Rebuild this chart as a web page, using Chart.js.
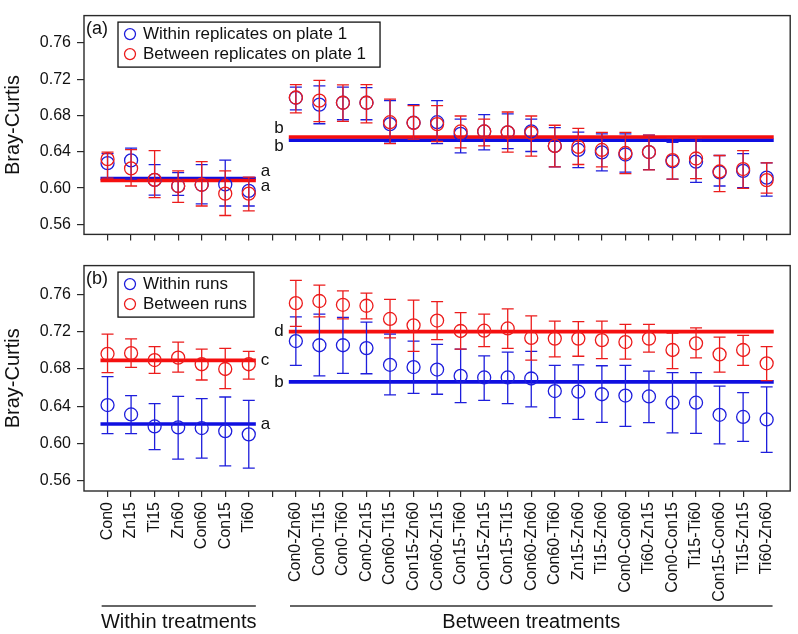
<!DOCTYPE html>
<html>
<head>
<meta charset="utf-8">
<script src="https://cdn.jsdelivr.net/npm/chart.js@4.4.1/dist/chart.umd.min.js"></script>
<style>
  html, body { margin: 0; padding: 0; background: #fff; }
  #wrap { position: relative; width: 798px; height: 634px; }
  #wrap canvas { position: absolute; left: 0; }
</style>
</head>
<body>
<div id="wrap">
  <canvas id="chartA" width="798" height="250" style="top:0"></canvas>
  <canvas id="chartB" width="798" height="384" style="top:250px"></canvas>
</div>
<script>
"use strict";

// categories
var withinLabels = ['Con0', 'Zn15', 'Ti15', 'Zn60', 'Con60', 'Con15', 'Ti60'];
var betweenLabels = ['Con0-Zn60', 'Con0-Ti15', 'Con0-Ti60', 'Con0-Zn15', 'Con60-Ti15', 'Con15-Zn60',
  'Con60-Zn15', 'Con15-Ti60', 'Con15-Zn15', 'Con15-Ti15', 'Con60-Zn60', 'Con60-Ti60', 'Zn15-Zn60',
  'Ti15-Zn60', 'Con0-Con60', 'Ti60-Zn15', 'Con0-Con15', 'Ti15-Ti60', 'Con15-Con60', 'Ti15-Zn15', 'Ti60-Zn60'];
var groupNames = ['Within treatments', 'Between treatments'];
var yTicks = [0.56, 0.60, 0.64, 0.68, 0.72, 0.76];

// panel (a) - replicates on plate 1
var aBlue   = [0.6275, 0.6305, 0.609, 0.6023, 0.6037, 0.6041, 0.5969,
  0.6995, 0.6919, 0.694, 0.694, 0.6705, 0.672, 0.6726, 0.6597, 0.6624, 0.6614, 0.6625, 0.6464,
  0.642, 0.6393, 0.637, 0.6397, 0.6295, 0.6291, 0.6173, 0.619, 0.6115];
var aBlueLo = [0.611, 0.6098, 0.5922, 0.592, 0.5827, 0.5803, 0.5803,
  0.6861, 0.6709, 0.6753, 0.6753, 0.6496, 0.654, 0.6489, 0.6387, 0.642, 0.6434, 0.6403, 0.6234,
  0.6226, 0.619, 0.6176, 0.6203, 0.6098, 0.6064, 0.6023, 0.6006, 0.5911];
var aBlueHi = [0.638, 0.644, 0.6258, 0.617, 0.6258, 0.6308, 0.6115,
  0.7113, 0.7126, 0.7113, 0.7107, 0.6963, 0.692, 0.6963, 0.676, 0.681, 0.6818, 0.676, 0.6665,
  0.6617, 0.6597, 0.6597, 0.6583, 0.6505, 0.652, 0.6359, 0.638, 0.6278];
var aRed    = [0.6319, 0.6217, 0.609, 0.6023, 0.6037, 0.5939, 0.5939,
  0.6998, 0.6963, 0.694, 0.694, 0.6726, 0.6719, 0.6705, 0.6624, 0.6624, 0.6614, 0.6608, 0.6464,
  0.6454, 0.642, 0.6387, 0.6397, 0.6308, 0.6326, 0.6183, 0.621, 0.6088];
var aRedLo  = [0.611, 0.6023, 0.5894, 0.5843, 0.5803, 0.5698, 0.5749,
  0.6828, 0.6733, 0.6736, 0.6719, 0.6489, 0.654, 0.6513, 0.6444, 0.6464, 0.6397, 0.6352, 0.6234,
  0.626, 0.6234, 0.6159, 0.62, 0.6098, 0.6105, 0.5962, 0.5996, 0.5945];
var aRedHi  = [0.6397, 0.6423, 0.6413, 0.619, 0.6291, 0.619, 0.612,
  0.714, 0.7187, 0.7136, 0.714, 0.698, 0.6909, 0.6909, 0.6794, 0.676, 0.6838, 0.6794, 0.6692,
  0.6658, 0.6614, 0.6614, 0.6583, 0.6556, 0.6556, 0.6359, 0.6413, 0.6278];
var aMeanBlue = [0.6105, 0.6528];   // within, between
var aMeanRed  = [0.6083, 0.6562];
var aLetterBlue = ['a', 'b'];
var aLetterRed  = ['a', 'b'];

// panel (b) - runs
var bBlue   = [0.6413, 0.6312, 0.6183, 0.6173, 0.6166, 0.6132, 0.6098,
  0.71, 0.7055, 0.7055, 0.7024, 0.6845, 0.6821, 0.6794, 0.6726, 0.6709, 0.6709, 0.6698, 0.6563,
  0.6556, 0.6529, 0.6515, 0.6505, 0.6438, 0.6438, 0.6308, 0.6285, 0.6258];
var bBlueLo = [0.6105, 0.6105, 0.5935, 0.5833, 0.5843, 0.5759, 0.5735,
  0.6838, 0.6726, 0.6753, 0.6749, 0.6522, 0.6539, 0.6529, 0.6438, 0.6464, 0.6428, 0.6393, 0.6278,
  0.6258, 0.6227, 0.6183, 0.6224, 0.6115, 0.6108, 0.5996, 0.6023, 0.5904];
var bBlueHi = [0.6719, 0.6515, 0.6428, 0.6505, 0.6482, 0.6499, 0.6464,
  0.736, 0.7388, 0.7354, 0.7303, 0.7174, 0.71, 0.7065, 0.7014, 0.694, 0.698, 0.699, 0.6838,
  0.6845, 0.6835, 0.6838, 0.6777, 0.676, 0.676, 0.6617, 0.6546, 0.6607];
var bRed    = [0.6963, 0.697, 0.6896, 0.6922, 0.6851, 0.68, 0.6851,
  0.7507, 0.753, 0.7489, 0.7479, 0.7337, 0.7269, 0.732, 0.7208, 0.7211, 0.7235, 0.7133, 0.7126,
  0.7126, 0.711, 0.7089, 0.7126, 0.7004, 0.7075, 0.6957, 0.7004, 0.6861];
var bRedLo  = [0.676, 0.6818, 0.6753, 0.6767, 0.6682, 0.659, 0.6692,
  0.7258, 0.736, 0.7337, 0.7337, 0.7133, 0.699, 0.7116, 0.7014, 0.7041, 0.7021, 0.6896, 0.693,
  0.6937, 0.6912, 0.6906, 0.698, 0.6804, 0.6919, 0.6767, 0.6838, 0.6675];
var bRedHi  = [0.7174, 0.7123, 0.7041, 0.7089, 0.7014, 0.7021, 0.699,
  0.7751, 0.77, 0.7639, 0.7615, 0.7547, 0.754, 0.7523, 0.7405, 0.7388, 0.7446, 0.737, 0.7313,
  0.7309, 0.7313, 0.7279, 0.7279, 0.7184, 0.7242, 0.7143, 0.716, 0.7041];
var bMeanBlue = [0.621, 0.6662];
var bMeanRed  = [0.6892, 0.7201];
var bLetterBlue = ['a', 'b'];
var bLetterRed  = ['c', 'd'];

var allLabels = withinLabels.concat([''], betweenLabels);

var BLUE = 'rgb(30,30,220)';
var RED = 'rgb(236,28,28)';
var LINE_BLUE = 'rgb(15,15,225)';
var LINE_RED = 'rgb(245,15,15)';
var INK = '#2a2a2a';
var FONT = '"Liberation Sans", Arial, Helvetica, sans-serif';
var groupSpans = [[-0.3, 6.3], [7.7, 28.3]];
var bracketSpans = [[-0.25, 6.3], [7.75, 28.25]];

Chart.defaults.font.family = FONT;
Chart.defaults.color = '#111';

function xPos(i) { return i < withinLabels.length ? i : i + 1; }
function pts(arr) { return arr.map(function (v, i) { return { x: xPos(i), y: v }; }); }

function pointSet(label, vals, lo, hi, color, order) {
  return {
    label: label, data: pts(vals), lo: lo, hi: hi,
    borderColor: color, backgroundColor: 'rgba(0,0,0,0)',
    pointRadius: 6.5, borderWidth: 1.3, pointHoverRadius: 6.5,
    showLine: false, order: order
  };
}

function meanLine(mean, g, color, letter, dy, order) {
  return {
    data: [{ x: groupSpans[g][0], y: mean }, { x: groupSpans[g][1], y: mean }],
    showLine: true, borderColor: color, borderWidth: 3.6, pointRadius: 0,
    letter: letter, side: g === 0 ? 'right' : 'left', dy: dy, order: order
  };
}

// error bars under each point set
var errorBars = {
  id: 'errorBars',
  beforeDatasetDraw: function (chart, args) {
    var ds = chart.data.datasets[args.index];
    if (!ds.lo) return;
    var y = chart.scales.y, c = chart.ctx;
    c.save();
    c.strokeStyle = ds.borderColor;
    c.lineWidth = 1.3;
    args.meta.data.forEach(function (el, i) {
      var top = y.getPixelForValue(ds.hi[i]), bot = y.getPixelForValue(ds.lo[i]);
      c.beginPath();
      c.moveTo(el.x, top); c.lineTo(el.x, bot);
      c.moveTo(el.x - 6, top); c.lineTo(el.x + 6, top);
      c.moveTo(el.x - 6, bot); c.lineTo(el.x + 6, bot);
      c.stroke();
    });
    c.restore();
  }
};

// frame, panel tag, letters, legend box
var panelDecor = {
  id: 'panelDecor',
  afterDraw: function (chart, args, opts) {
    var c = chart.ctx, a = chart.chartArea;
    c.save();
    c.strokeStyle = INK;
    c.lineWidth = 1.4;
    c.strokeRect(a.left, a.top, a.right - a.left, a.bottom - a.top);

    c.fillStyle = '#111';
    c.font = '18px ' + FONT;
    c.textAlign = 'left';
    c.textBaseline = 'middle';
    c.fillText(opts.tag, a.left + 2, a.top + 13.5);

    // letters next to the mean lines
    c.font = '17px ' + FONT;
    chart.data.datasets.forEach(function (ds, i) {
      if (!ds.letter) return;
      var d = chart.getDatasetMeta(i).data;
      if (ds.side === 'right') {
        c.textAlign = 'left';
        c.fillText(ds.letter, d[1].x + 5, d[1].y + ds.dy);
      } else {
        c.textAlign = 'right';
        c.fillText(ds.letter, d[0].x - 5, d[0].y + ds.dy);
      }
    });

    // legend
    var items = chart.data.datasets.filter(function (ds) { return ds.lo; });
    c.font = '17px ' + FONT;
    var w = 0;
    items.forEach(function (ds) { w = Math.max(w, c.measureText(ds.label).width); });
    var bx = a.left + 34, by = a.top + 6.5, bw = w + 25 + opts.pad;
    c.fillStyle = '#fff';
    c.fillRect(bx, by, bw, 45);
    c.strokeStyle = '#111';
    c.lineWidth = 1.3;
    c.strokeRect(bx, by, bw, 45);
    items.forEach(function (ds, k) {
      var ry = by + 12 + k * 20;
      c.beginPath();
      c.arc(bx + 12, ry, 5.5, 0, Math.PI * 2);
      c.strokeStyle = ds.borderColor;
      c.stroke();
      c.fillStyle = '#111';
      c.textAlign = 'left';
      c.fillText(ds.label, bx + 25, ry);
    });
    c.restore();
  }
};

// brackets with group names under the x labels
var groupBrackets = {
  id: 'groupBrackets',
  afterDraw: function (chart, args, opts) {
    if (!opts.show) return;
    var c = chart.ctx, x = chart.scales.x, yb = chart.chartArea.bottom + 115;
    c.save();
    c.strokeStyle = '#333';
    c.lineWidth = 1.4;
    c.fillStyle = '#111';
    c.font = '20px ' + FONT;
    c.textAlign = 'center';
    c.textBaseline = 'middle';
    bracketSpans.forEach(function (s, g) {
      var x0 = x.getPixelForValue(s[0]), x1 = x.getPixelForValue(s[1]);
      c.beginPath();
      c.moveTo(x0, yb); c.lineTo(x1, yb);
      c.stroke();
      c.fillText(groupNames[g], (x0 + x1) / 2, yb + 16);
    });
    c.restore();
  }
};

function makePanel(id, p) {
  var ctx = document.getElementById(id).getContext('2d');
  return new Chart(ctx, {
    type: 'scatter',
    data: {
      datasets: [
        pointSet(p.legend[0], p.blue, p.blueLo, p.blueHi, BLUE, 1),
        pointSet(p.legend[1], p.red, p.redLo, p.redHi, RED, 0),
        meanLine(p.meanBlue[0], 0, LINE_BLUE, p.letterBlue[0], p.dyBlue[0], 3),
        meanLine(p.meanBlue[1], 1, LINE_BLUE, p.letterBlue[1], p.dyBlue[1], 3),
        meanLine(p.meanRed[0], 0, LINE_RED, p.letterRed[0], p.dyRed[0], 2),
        meanLine(p.meanRed[1], 1, LINE_RED, p.letterRed[1], p.dyRed[1], 2)
      ]
    },
    options: {
      responsive: false,
      animation: false,
      events: [],
      layout: { padding: { top: p.padTop, right: 6, left: 0, bottom: 0 } },
      plugins: {
        legend: { display: false },
        tooltip: { enabled: false },
        panelDecor: { tag: p.tag, pad: p.legendPad },
        groupBrackets: { show: p.showLabels }
      },
      scales: {
        x: {
          type: 'linear', min: -1, max: 29,
          afterBuildTicks: function (s) { s.ticks = allLabels.map(function (l, i) { return { value: i }; }); },
          afterFit: function (s) { s.height = p.xHeight; },
          grid: { drawOnChartArea: false, drawTicks: true, tickLength: 6, color: INK, lineWidth: 1.2 },
          border: { display: false },
          ticks: {
            display: p.showLabels, autoSkip: false, minRotation: 90, maxRotation: 90, padding: 5,
            font: { size: 16 }, color: '#111',
            callback: function (v) { return allLabels[v] || ''; }
          }
        },
        y: {
          min: p.yMin, max: p.yMax,
          afterBuildTicks: function (s) { s.ticks = yTicks.map(function (v) { return { value: v }; }); },
          afterFit: function (s) { s.width = 84; },
          grid: { drawOnChartArea: false, drawTicks: true, tickLength: 7, color: INK, lineWidth: 1.2 },
          border: { display: false },
          ticks: { padding: 6, font: { size: 16 }, color: '#111', callback: function (v) { return v.toFixed(2); } },
          title: { display: true, text: 'Bray-Curtis', font: { size: 20 }, color: '#111', padding: { top: 1, bottom: 0 } }
        }
      }
    },
    plugins: [errorBars, panelDecor, groupBrackets]
  });
}

// panel a
makePanel('chartA', {
  tag: '(a)', legend: ['Within replicates on plate 1', 'Between replicates on plate 1'],
  blue: aBlue, blueLo: aBlueLo, blueHi: aBlueHi, red: aRed, redLo: aRedLo, redHi: aRedHi,
  meanBlue: aMeanBlue, meanRed: aMeanRed, letterBlue: aLetterBlue, letterRed: aLetterRed,
  dyBlue: [-7.5, 6.4], dyRed: [5.5, -8.3],
  yMin: 0.549, yMax: 0.790, padTop: 4, xHeight: 9, showLabels: false, legendPad: 14
});

// panel b
makePanel('chartB', {
  tag: '(b)', legend: ['Within runs', 'Between runs'],
  blue: bBlue, blueLo: bBlueLo, blueHi: bBlueHi, red: bRed, redLo: bRedLo, redHi: bRedHi,
  meanBlue: bMeanBlue, meanRed: bMeanRed, letterBlue: bLetterBlue, letterRed: bLetterRed,
  dyBlue: [0, 0], dyRed: [0, 0],
  yMin: 0.549, yMax: 0.791, padTop: 3, xHeight: 143, showLabels: true, legendPad: 7
});
</script>
</body>
</html>
